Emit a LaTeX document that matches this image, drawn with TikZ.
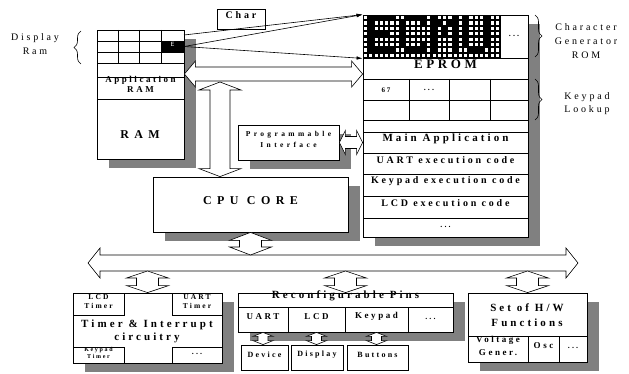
\documentclass[tikz,border=0pt]{standalone}
\usepackage{fontspec}
\setmainfont{Liberation Serif}
\newfontfamily\spfont[LetterSpace=28]{Liberation Serif}
\newfontfamily\wdfont[LetterSpace=45]{Liberation Serif}
\usetikzlibrary{arrows.meta,fit,shadows,calc,decorations.pathreplacing}
\definecolor{shadowgray}{HTML}{808080}

% fat double arrows (white, outlined)
\newcommand{\hfat}[5]{%
  \draw[fatline] let \p1=#1, \p2=#2 in
    (\x1,\y1) -- (\x1+#5,\y1+#4) -- (\x1+#5,\y1+#3) -- (\x2-#5,\y1+#3) -- (\x2-#5,\y1+#4)
    -- (\x2,\y1) -- (\x2-#5,\y1-#4) -- (\x2-#5,\y1-#3) -- (\x1+#5,\y1-#3) -- (\x1+#5,\y1-#4) -- cycle;}
\newcommand{\vfat}[5]{%
  \draw[fatline] let \p1=#1, \p2=#2 in
    (\x1,\y1) -- (\x1+#4,\y1-#5) -- (\x1+#3,\y1-#5) -- (\x1+#3,\y2+#5) -- (\x1+#4,\y2+#5)
    -- (\x1,\y2) -- (\x1-#4,\y2+#5) -- (\x1-#3,\y2+#5) -- (\x1-#3,\y1-#5) -- (\x1-#4,\y1-#5) -- cycle;}

\begin{document}
\begin{tikzpicture}[x=1pt, y=-1pt,
    blk/.style={draw, line width=0.8pt, fill=white, inner sep=0pt, align=center},
    shd/.style={general shadow={fill=shadowgray, shadow xshift=12pt, shadow yshift=-9pt}},
    t/.style 2 args={font=\spfont\bfseries\fontsize{#1}{#2}\selectfont},
    tw/.style 2 args={font=\wdfont\bfseries\fontsize{#1}{#2}\selectfont},
    tr/.style 2 args={font=\spfont\fontsize{#1}{#2}\selectfont, align=center},
    fatline/.style={draw, fill=white, line width=0.6pt, line join=miter},
    ptr/.style={-{Latex[length=6pt,width=3.5pt]}, line width=0.6pt},
    brc/.style={decorate, decoration={brace, amplitude=7pt}, line width=0.6pt}
]
\useasboundingbox (0,0) rectangle (629,374);

% RAM with display area
\node[blk, shd, fit={(97,30) (184,159)}] (ram) {};
\foreach \x in {118,139,161} \draw[line width=0.8pt] (\x,30) -- (\x,63);
\foreach \y in {41,52,63} \draw[line width=0.8pt] (97,\y) -- (184,\y);
\node[fill=black, inner sep=0pt, fit={(161,41) (184,52)}, text=white,
      font=\sffamily\fontsize{6}{6}\selectfont] (ecell) {E};
\node[blk, fit={(97,77) (184,99)}, t={9}{10}] (appram) {Application\\RAM};
\node[tw={12}{14}] (ramlbl) at (140,135) {RAM};
\node[tr={10}{14}] (dlbl) at (35,44) {Display\\Ram};
\draw[brc] (81,64) -- (81,31);

\node[blk, fit={(217,9) (265,29)}, t={10}{12}] (charbox) {Char};

% EPROM
\node[blk, shd, fit={(363,15) (528,237)}] (eprom) {};
\node[blk, fit={(363,15) (528,58)}] (crom) {};
\begin{scope}[shift={(363,15)}, x=5.27pt, y=-5.375pt]
  \fill (0,0) rectangle (26,8);
  \foreach \c in {0,...,25} \foreach \r in {0,...,7}
    \fill[white] (\c+0.2,\r+0.2) rectangle (\c+0.8,\r+0.8);
  % E
  \fill (1,0) rectangle (2,7); \fill (1,0) rectangle (6,1);
  \fill (1,3) rectangle (5,4); \fill (1,6) rectangle (6,7);
  % C
  \fill (8,0) rectangle (12,1); \fill (7,1) rectangle (8,6); \fill (8,6) rectangle (12,7);
  \fill (11,1) rectangle (12,2); \fill (11,5) rectangle (12,6);
  % M
  \fill (13,0) rectangle (14,7); \fill (17,0) rectangle (18,7);
  \fill (14,1) rectangle (15,2); \fill (15,2) rectangle (16,4); \fill (16,1) rectangle (17,2);
  % U
  \fill (19,0) rectangle (20,6); \fill (23,0) rectangle (24,6); \fill (20,6) rectangle (23,7);
\end{scope}
\node[blk, fit={(500,15) (528,58)}, t={8}{8}] (cromdots) {...};
\node[blk, fit={(363,58) (528,79)}, t={13}{14}] (eprlbl) {EPROM};
\node[blk, fit={(363,79) (528,120)}] (kplook) {};
\foreach \x in {409,449,490} \draw[line width=0.8pt] (\x,79) -- (\x,120);
\draw[line width=0.8pt] (363,100) -- (528,100);
\node[t={7}{8}] (k67) at (386,90) {67};
\node[t={8}{8}] (kdots) at (429,90) {...};
\node[blk, fit={(363,132) (528,153)}, t={11}{12}] (mainapp) {Main Application};
\node[blk, fit={(363,153) (528,174)}, t={10}{12}] (uartcode) {UART execution code};
\node[blk, fit={(363,174) (528,196)}, t={10}{12}] (keycode) {Keypad execution code};
\node[blk, fit={(363,196) (528,218)}, t={10}{12}] (lcdcode) {LCD execution code};
\node[blk, fit={(363,218) (528,237)}, t={8}{8}] (morecode) {...};

\draw[brc] (535,15) -- (535,57);
\node[tr={10}{14}] (cglbl) at (586,41) {Character\\Generator\\ROM};
\draw[brc] (535,79) -- (535,120);
\node[tr={10}{13}] (kllbl) at (587,104) {Keypad\\Lookup};

% display ram to character generator
\coordinate (dr1) at (184,35);
\draw[ptr] (dr1) -- (crom.north west);
\draw[ptr] (ecell.east) -- (crom.north west);
\draw[ptr] (ecell.east) -- (crom.south west);

% interface and cpu
\node[blk, shd, fit={(238,125) (339,160)}, tw={7.5}{11}] (pif) {Programmable\\Interface};
\node[blk, shd, fit={(153,177) (348,232)}, tw={12}{14}] (cpu) {CPU CORE};

% peripherals
\node[blk, shd, fit={(73,293) (222,363)}] (timer) {};
\node[blk, fit={(73,293) (124,315)}, t={7.5}{9}] (lcdt) {LCD\\Timer};
\node[blk, fit={(172,293) (222,315)}, t={7.5}{9}] (uartt) {UART\\Timer};
\node[blk, fit={(73,347) (124,363)}, t={6}{7}] (keyt) {Keypad\\Timer};
\node[blk, fit={(172,347) (222,363)}, t={8}{8}] (moret) {...};
\node[t={11}{13}, align=center] (timtxt) at (147,331) {Timer \& Interrupt\\circuitry};

\node[blk, shd, fit={(238,293) (453,332)}] (pins) {};
\node[blk, fit={(238,293) (453,307)}, t={11}{12}] (pinhdr) {Reconfigurable Pins};
\node[blk, fit={(238,307) (288,332)}, t={9}{10}] (uartp) {UART};
\node[blk, fit={(288,307) (345,332)}, t={9}{10}] (lcdp) {LCD};
\node[blk, fit={(345,307) (408,332)}, t={9}{10}] (keyp) {Keypad};
\node[blk, fit={(408,307) (453,332)}, t={8}{8}] (morep) {...};
\node[blk, fit={(241,345) (288,370)}, t={8}{9}] (dev) {Device};
\node[blk, fit={(291,345) (343,370)}, t={8}{9}] (disp) {Display};
\node[blk, fit={(347,345) (408,370)}, t={8}{9}] (btn) {Buttons};

\node[blk, shd, fit={(468,293) (587,362)}] (hw) {};
\node[t={11}{15}, align=center] (hwtxt) at (527,315) {Set of H/W\\Functions};
\node[blk, fit={(468,336) (528,362)}, t={9}{13}] (volt) {Voltage\\Gener.};
\node[blk, fit={(528,336) (559,362)}, t={9}{10}] (osc) {Osc};
\node[blk, fit={(559,336) (587,362)}, t={8}{8}] (morehw) {...};

% fat arrows
\coordinate (hbus) at (270,74);
\coordinate (vtop) at (220,82);
\coordinate (busl) at (88,263);
\coordinate (busr) at (578,263);
\coordinate (bt) at (300,255);
\coordinate (bb) at (300,271);
\hfat{(ram.east |- hbus)}{(eprom.west |- hbus)}{7pt}{13pt}{11pt}
\vfat{(vtop)}{(cpu.north -| vtop)}{10pt}{21pt}{8pt}
\hfat{(pif.east |- mainapp)}{(mainapp.west)}{6pt}{12pt}{6pt}
\hfat{(busl)}{(busr)}{8pt}{15pt}{12pt}
\vfat{(cpu.south)}{(cpu.south |- bt)}{11pt}{21pt}{8pt}
\vfat{(timer.north |- bb)}{(timer.north)}{11pt}{21pt}{7pt}
\vfat{(pins.north |- bb)}{(pins.north)}{11pt}{21pt}{7pt}
\vfat{(hw.north |- bb)}{(hw.north)}{11pt}{21pt}{7pt}
\vfat{(uartp.south)}{(dev.north)}{5pt}{10pt}{4pt}
\vfat{(lcdp.south)}{(disp.north)}{5pt}{10pt}{4pt}
\vfat{(keyp.south)}{(btn.north)}{5pt}{10pt}{4pt}
\end{tikzpicture}
\end{document}
